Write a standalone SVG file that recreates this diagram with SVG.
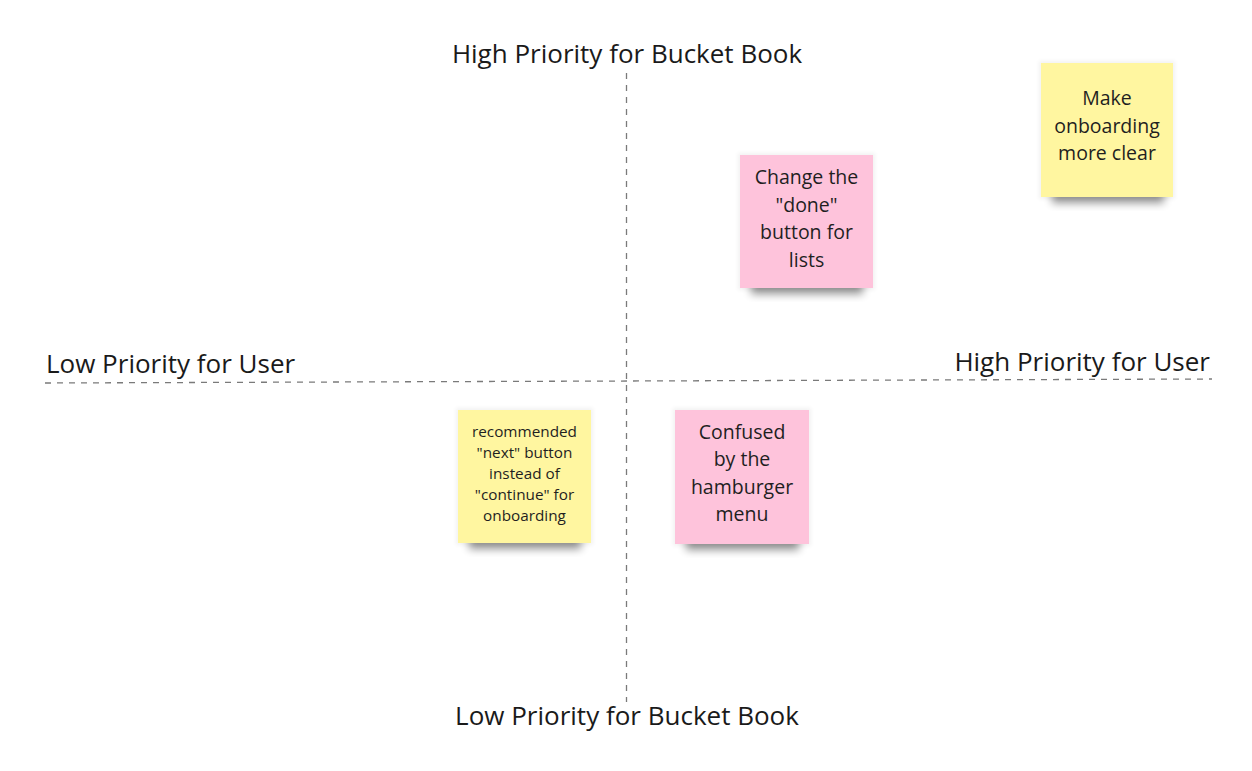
<svg xmlns="http://www.w3.org/2000/svg" width="1252" height="771" viewBox="0 0 1252 771">
<defs>
<filter id="sh" x="-20%" y="-50%" width="140%" height="200%"><feGaussianBlur stdDeviation="4.5"/></filter>
<filter id="sh2" x="-20%" y="-20%" width="140%" height="140%"><feGaussianBlur stdDeviation="2"/></filter>
</defs>
<style>
.axis{stroke:#7a7a7a;stroke-width:1.3;stroke-dasharray:6 6;fill:none}
.lbl{font-family:"Open Sans","Noto Sans",sans-serif;font-size:26px;fill:#1a1a1a}
.note{font-family:"Open Sans","Noto Sans",sans-serif;font-size:19.5px;fill:#1f1f1f;text-anchor:middle}
.small{font-family:"Open Sans","Noto Sans",sans-serif;font-size:15.3px;fill:#1f1f1f;text-anchor:middle}
.yel{fill:#fff6a0}
.pnk{fill:#fec3db}
.shd{fill:#000;opacity:0.42;filter:url(#sh)}
.shl{fill:#000;opacity:0.05;filter:url(#sh2)}
</style>
<rect width="1252" height="771" fill="#ffffff"/>
<g id="connectors">
<line class="axis" x1="626.5" y1="73" x2="626.5" y2="702"/>
<line class="axis" x1="45" y1="383" x2="1212" y2="379"/>
</g>
<g id="axis-labels">
<text class="lbl" x="627" y="63" text-anchor="middle">High Priority for Bucket Book</text>
<text class="lbl" x="627" y="725" text-anchor="middle">Low Priority for Bucket Book</text>
<text class="lbl" x="46" y="373">Low Priority for User</text>
<text class="lbl" x="1210" y="371" text-anchor="end">High Priority for User</text>
</g>
<g id="note-onboarding">
<rect class="shd" x="1052" y="188" width="112" height="15"/>
<rect class="shl" x="1039" y="61" width="136" height="138"/>
<rect class="yel" x="1041" y="63" width="132" height="134"/>
<text class="note" x="1107" y="105">Make</text>
<text class="note" x="1107" y="132.5">onboarding</text>
<text class="note" x="1107" y="160">more clear</text>
</g>
<g id="note-done">
<rect class="shd" x="751" y="279" width="112" height="15"/>
<rect class="shl" x="738" y="153" width="137" height="137"/>
<rect class="pnk" x="740" y="155" width="133" height="133"/>
<text class="note" x="806.5" y="184">Change the</text>
<text class="note" x="806.5" y="211.5">"done"</text>
<text class="note" x="806.5" y="239">button for</text>
<text class="note" x="806.5" y="266.5">lists</text>
</g>
<g id="note-next">
<rect class="shd" x="469" y="534" width="112" height="15"/>
<rect class="shl" x="456" y="408" width="137" height="137"/>
<rect class="yel" x="458" y="410" width="133" height="133"/>
<text class="small" x="524.5" y="437">recommended</text>
<text class="small" x="524.5" y="458">"next" button</text>
<text class="small" x="524.5" y="479">instead of</text>
<text class="small" x="524.5" y="500">"continue" for</text>
<text class="small" x="524.5" y="521">onboarding</text>
</g>
<g id="note-hamburger">
<rect class="shd" x="686" y="535" width="113" height="15"/>
<rect class="shl" x="673" y="408" width="138" height="138"/>
<rect class="pnk" x="675" y="410" width="134" height="134"/>
<text class="note" x="742" y="438.5">Confused</text>
<text class="note" x="742" y="466">by the</text>
<text class="note" x="742" y="493.5">hamburger</text>
<text class="note" x="742" y="521">menu</text>
</g>
</svg>
